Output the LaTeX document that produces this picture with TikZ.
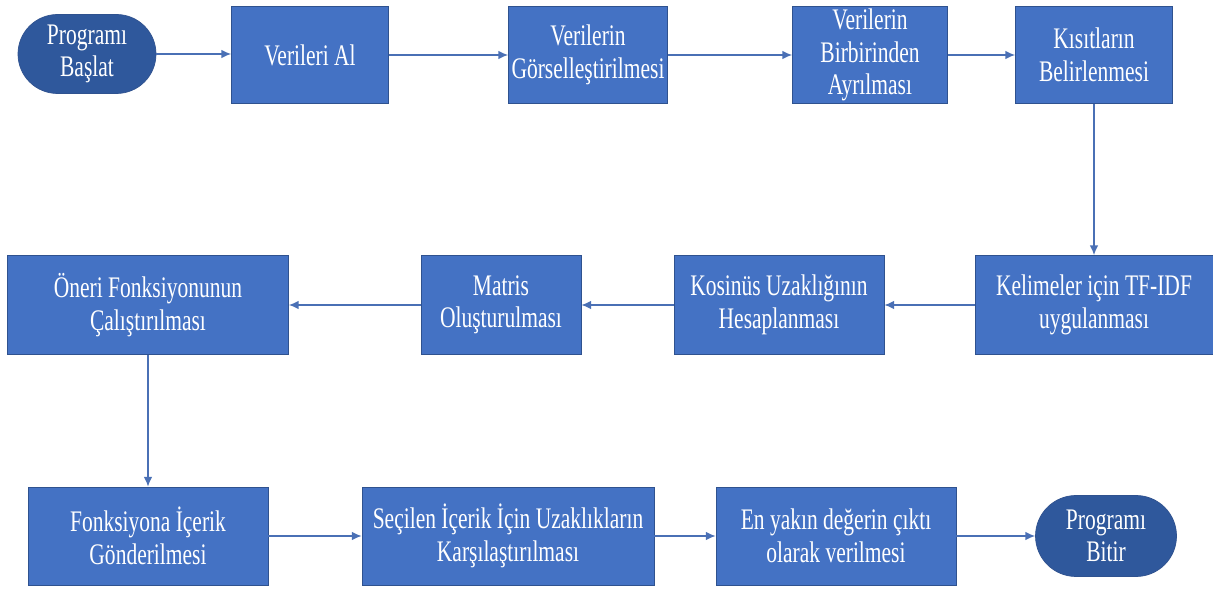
\documentclass[tikz,border=0pt]{standalone}
\usepackage{fontspec}
\setmainfont{Liberation Serif}[FakeStretch=0.72]
\usetikzlibrary{shapes.misc,arrows.meta}

\newlength{\du}
\setlength{\du}{0.02cm}

\definecolor{boxcolor}{rgb}{0.267, 0.447, 0.769}
\definecolor{endcolor}{rgb}{0.184, 0.345, 0.612}
\definecolor{edgecolor}{rgb}{0.184, 0.322, 0.561}
\definecolor{linkcolor}{rgb}{0.290, 0.439, 0.710}

\tikzset{
  stepbox/.style={draw=edgecolor, line width=0.4pt, fill=boxcolor, text=white,
    align=center, inner sep=0pt,
    font=\fontsize{17}{18.5}\selectfont},
  endbox/.style={stepbox, rounded rectangle, fill=endcolor},
  link/.style={draw=linkcolor, line width=0.9pt, -{Latex[length=5.6pt,width=5pt]}}
}

\begin{document}
\begin{tikzpicture}
\useasboundingbox (0,0) rectangle (1213\du,-590\du);
% first row
\node[endbox, minimum width=138\du, minimum height=79\du] (basla) at (87\du,-54\du) {Programı\\Başlat};
\node[stepbox, minimum width=157\du, minimum height=97\du] (al) at (310\du,-55\du) {Verileri Al};
\node[stepbox, minimum width=159\du, minimum height=97\du] (gorsel) at (588\du,-55\du) {Verilerin\\Görselleştirilmesi};
\node[stepbox, minimum width=155\du, minimum height=97\du] (ayir) at (870\du,-55\du) {Verilerin\\Birbirinden\\Ayrılması};
\node[stepbox, minimum width=157\du, minimum height=97\du] (kisit) at (1094\du,-55\du) {Kısıtların\\Belirlenmesi};
% second row
\node[stepbox, minimum width=238\du, minimum height=99\du] (tfidf) at (1094\du,-305\du) {Kelimeler için TF-IDF\\uygulanması};
\node[stepbox, minimum width=210\du, minimum height=99\du] (kosinus) at (779\du,-305\du) {Kosinüs Uzaklığının\\Hesaplanması};
\node[stepbox, minimum width=160\du, minimum height=99\du] (matris) at (501\du,-305\du) {Matris\\Oluşturulması};
\node[stepbox, minimum width=281\du, minimum height=99\du] (oneri) at (148\du,-305\du) {Öneri Fonksiyonunun\\Çalıştırılması};
% third row
\node[stepbox, minimum width=240\du, minimum height=98\du] (gonder) at (148\du,-536\du) {Fonksiyona İçerik\\Gönderilmesi};
\node[stepbox, minimum width=292\du, minimum height=98\du] (secilen) at (508\du,-536\du) {Seçilen İçerik İçin Uzaklıkların\\Karşılaştırılması};
\node[stepbox, minimum width=240\du, minimum height=98\du] (yakin) at (836\du,-536\du) {En yakın değerin çıktı\\olarak verilmesi};
\node[endbox, minimum width=141\du, minimum height=81\du] (bitir) at (1106\du,-536\du) {Programı\\Bitir};

% connectors
\draw[link] (basla.east) -- (basla.east -| al.west);
\draw[link] (al) -- (gorsel);
\draw[link] (gorsel) -- (ayir);
\draw[link] (ayir) -- (kisit);
\draw[link] (kisit) -- (tfidf);
\draw[link] (tfidf) -- (kosinus);
\draw[link] (kosinus) -- (matris);
\draw[link] (matris) -- (oneri);
\draw[link] (oneri) -- (gonder);
\draw[link] (gonder) -- (secilen);
\draw[link] (secilen) -- (yakin);
\draw[link] (yakin) -- (bitir);
\end{tikzpicture}
\end{document}
